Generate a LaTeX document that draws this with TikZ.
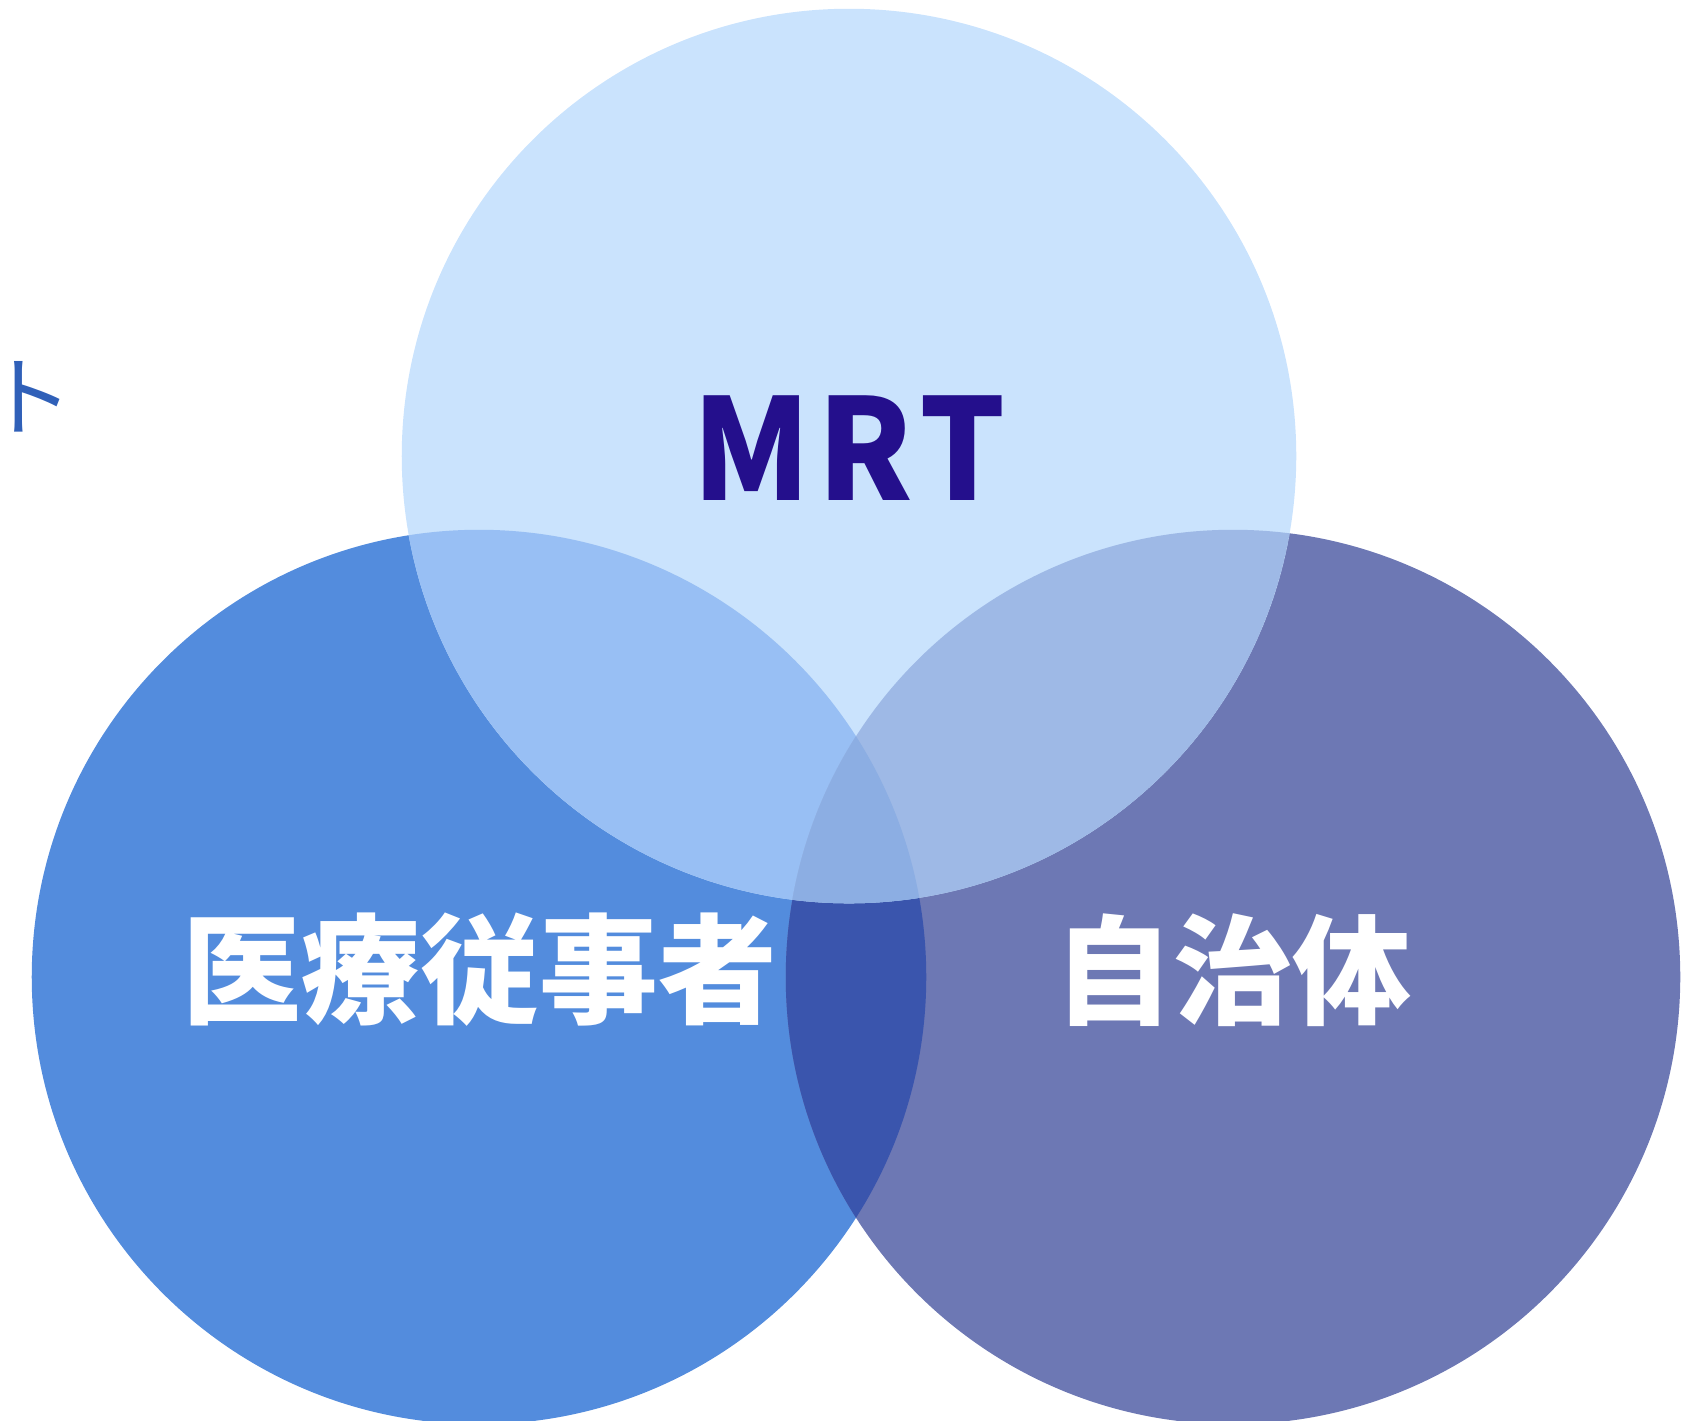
\documentclass[tikz,border=0pt]{standalone}
\usepackage{fontspec}
\newfontfamily\jpfont{Noto Sans CJK JP}
\definecolor{topc}{HTML}{CAE3FD}
\definecolor{leftc}{HTML}{538CDD}
\definecolor{rightc}{HTML}{6D78B4}
\definecolor{tlc}{HTML}{98BFF4}
\definecolor{trc}{HTML}{9EB9E6}
\definecolor{lrc}{HTML}{3A55AD}
\definecolor{midc}{HTML}{8CAEE3}
\definecolor{mrtc}{HTML}{240F8C}
\definecolor{sidec}{HTML}{3060B8}
\tikzset{
  rad/.style={radius=4.47cm},
  biglabel/.style={text=white,font=\jpfont\bfseries\fontsize{33.8}{36}\selectfont,inner sep=0pt}
}

\begin{document}
\begin{tikzpicture}[x=0.01cm,y=-0.01cm]
  \useasboundingbox (0,0) rectangle (1694,1420);
  \coordinate (T) at (849,456);
  \coordinate (L) at (479,977);
  \coordinate (R) at (1233,977);
  % circles
  \fill[leftc] (L) circle[rad];
  \fill[rightc] (R) circle[rad];
  \fill[topc] (T) circle[rad];
  % overlaps
  \begin{scope}
    \clip (L) circle[rad];
    \fill[lrc] (R) circle[rad];
    \fill[tlc] (T) circle[rad];
    \clip (R) circle[rad];
    \fill[midc] (T) circle[rad];
  \end{scope}
  \begin{scope}
    \clip (R) circle[rad];
    \clip (T) circle[rad];
    \fill[trc] (T) circle[rad];
    \clip (L) circle[rad];
    \fill[midc] (T) circle[rad];
  \end{scope}
  % labels
  \node[text=mrtc,font=\jpfont\bfseries\fontsize{40}{48}\selectfont,inner sep=0pt,xscale=0.96] (mrt) at (849,448) {M\hspace{0.05em}R\hspace{0.05em}T};
  \node[biglabel] (staff) at (480,970) {医療従事者};
  \node[biglabel] (city) at (1233,970) {自治体};
  \node[text=sidec,font=\jpfont\fontsize{25}{28}\selectfont,inner sep=0pt,anchor=west] (side) at (-15,397) {ト};
\end{tikzpicture}
\end{document}
